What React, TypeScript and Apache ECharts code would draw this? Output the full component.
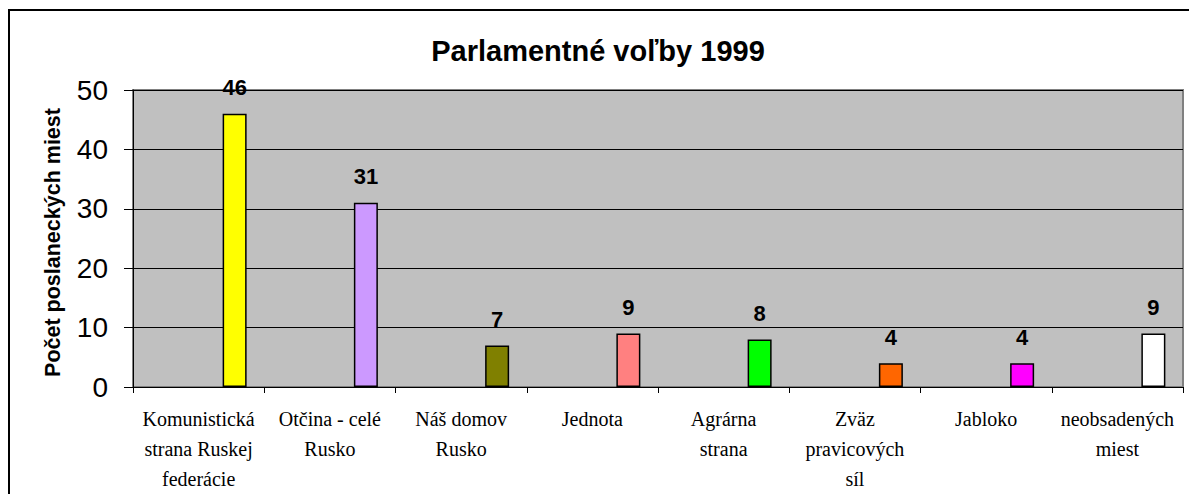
import React, { useEffect, useRef } from "react";
import * as echarts from "echarts";

const titleText = "Parlamentné voľby 1999";
const yAxisName = "Počet poslaneckých miest";
const categories = [
  "Komunistická\nstrana Ruskej\nfederácie",
  "Otčina - celé\nRusko",
  "Náš domov\nRusko",
  "Jednota",
  "Agrárna\nstrana",
  "Zväz\npravicových\nsíl",
  "Jabloko",
  "neobsadených\nmiest",
];
const seats = [46, 31, 7, 9, 8, 4, 4, 9];
const barColors = ["#FFFF00", "#CC99FF", "#808000", "#FF8080", "#00FF00", "#FF6600", "#FF00FF", "#FFFFFF"];
const yTicks = { min: 0, max: 50, interval: 10 };

export default function App() {
  const ref = useRef<HTMLDivElement>(null);
  useEffect(() => {
    if (!ref.current) return;
    const chart = echarts.init(ref.current, null, { renderer: "svg" });
    const sans = "'Liberation Sans', Arial, sans-serif";
    const serif = "'Liberation Serif', 'Times New Roman', serif";
    chart.setOption({
      animation: false,
      backgroundColor: "#FFFFFF",
      graphic: [
        {
          type: "rect",
          shape: { x: 9, y: 10, width: 1200, height: 500 },
          style: { fill: "none", stroke: "#000000", lineWidth: 2 },
          z: 10,
        },
        {
          type: "text",
          x: 598,
          y: 51,
          style: {
            text: titleText,
            align: "center",
            verticalAlign: "middle",
            font: "bold 29px " + sans,
            fill: "#000000",
          },
        },
        {
          type: "text",
          x: 53,
          y: 242.5,
          rotation: Math.PI / 2,
          style: {
            text: yAxisName,
            align: "center",
            verticalAlign: "middle",
            fontFamily: sans,
            fontWeight: "bold",
            fontSize: 21.5,
            fill: "#000000",
          },
        },
      ],
      grid: {
        left: 133,
        top: 90,
        right: 6,
        bottom: 107,
        show: true,
        backgroundColor: "#C0C0C0",
        borderColor: "#808080",
        borderWidth: 2,
      },
      xAxis: {
        type: "category",
        data: categories,
        axisLine: { show: true, lineStyle: { color: "#000000", width: 1 } },
        axisTick: { show: true, length: 6, lineStyle: { color: "#000000" } },
        axisLabel: {
          interval: 0,
          margin: 17,
          fontFamily: serif,
          fontSize: 20,
          lineHeight: 30,
          color: "#000000",
        },
      },
      yAxis: {
        type: "value",
        min: yTicks.min,
        max: yTicks.max,
        interval: yTicks.interval,
        axisLine: { show: true, lineStyle: { color: "#000000", width: 1 } },
        axisTick: { show: true, length: 9, lineStyle: { color: "#000000" } },
        axisLabel: { margin: 25, fontFamily: sans, fontSize: 28, color: "#000000" },
        splitLine: { show: true, lineStyle: { color: "#000000", width: 1 } },
      },
      series: [
        {
          type: "bar",
          data: categories.map(() => null),
          barWidth: 24,
          barGap: "200%",
          silent: true,
        },
        {
          type: "bar",
          barWidth: 24,
          barGap: "200%",
          data: seats.map((v, i) => ({
            value: v,
            itemStyle: { color: barColors[i], borderColor: "#000000", borderWidth: 1.5 },
          })),
          label: {
            show: true,
            position: "top",
            distance: 15,
            fontFamily: sans,
            fontWeight: "bold",
            fontSize: 22,
            color: "#000000",
          },
        },
      ],
    });
    return () => chart.dispose();
  }, []);
  return (
    <div
      ref={ref}
      style={{ position: "fixed", left: 0, top: 0, width: 1189, height: 494 }}
    />
  );
}
